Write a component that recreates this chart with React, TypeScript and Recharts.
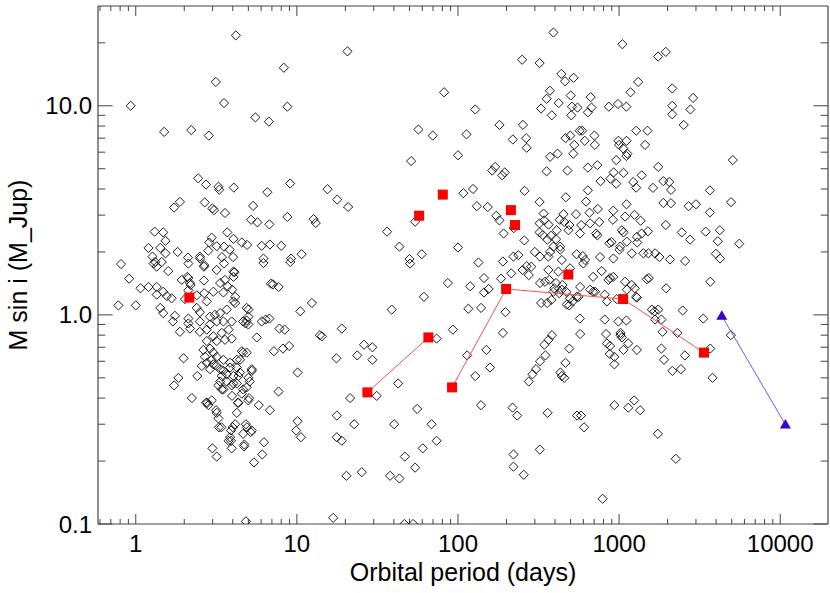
import React from 'react';
import { ScatterChart, Scatter, XAxis, YAxis } from 'recharts';

// Orbital period (days), minimum mass M sin i (M_Jup)
const planets: [number, number][] = [
  [4.18,21.7],[20.6,18.2],[8.3,15.2],[3.14,13.0],[82,11.6],[0.93,10.0],[3.53,10.3],[8.73,9.9],[5.53,8.8],[6.7,8.4],
  [1.5,7.5],[2.21,7.65],[2.84,7.2],[56.8,7.7],[69.7,7.2],[51.2,5.44],[100,5.8],[2.44,4.5],[2.73,4.2],[3.26,4.1],
  [3.3,3.97],[4.06,4.06],[6.56,3.86],[9.08,4.25],[15.5,3.99],[17.8,3.56],[20.8,3.28],[1.73,3.26],[1.88,3.47],[2.68,3.45],
  [2.99,3.23],[3.06,3.17],[3.58,3.07],[5.35,3.32],[5.2,2.85],[5.69,2.77],[6.75,2.71],[8.73,2.94],[12.7,2.87],[13.1,2.75],
  [36.3,2.5],[43.3,2.12],[59.6,1.95],[54.2,2.79],[1.31,2.5],[1.48,2.48],[1.53,2.26],[1.2,2.09],[1.42,2.09],[1.53,1.97],
  [1.82,2.0],[2.11,1.88],[2.5,1.9],[2.82,2.03],[2.96,2.34],[2.86,2.22],[3.18,2.13],[3.7,2.48],[4.04,2.31],[3.53,2.12],
  [3.83,2.05],[3.43,1.89],[4.02,1.89],[4.55,2.22],[4.91,2.16],[6.05,2.14],[6.8,2.17],[8.0,2.14],[10.7,1.95],[6.2,1.86],
  [9.2,1.86],[50,1.85],[1.27,1.9],[100,2.1],
  [391,22.4],[1048,19.7],[1746,17.2],[1950,18.1],[250,16.6],[321,16.0],[438,14.2],[462,13.1],[522,13.6],[372,11.8],
  [355,10.8],[1314,13.0],[1177,11.6],[2137,12.1],[2880,10.9],[128,9.6],[328,9.7],[382,9.0],[422,10.3],[510,9.9],
  [552,9.8],[505,9.0],[666,11.0],[674,9.8],[640,9.3],[864,9.9],[984,10.2],[1109,9.9],[2137,10.0],[2137,9.1],
  [2770,9.6],[2518,8.1],[113,7.3],[181,8.1],[253,8.1],[219,6.9],[265,7.0],[267,6.3],[465,7.0],[498,7.2],
  [569,7.6],[590,7.6],[612,6.8],[703,7.2],[707,6.5],[527,6.5],[1277,7.6],[1500,7.6],[1450,6.5],[990,6.8],
  [1000,6.5],[1112,6.8],[1060,6.25],[1110,5.75],[1125,5.9],[960,5.5],[5080,5.5],[373,5.7],[415,5.9],[520,5.9],
  [163,4.9],[170,5.1],[188,4.65],[195,4.8],[355,4.86],[478,4.9],[640,5.06],[733,5.2],[767,4.36],[882,4.48],
  [925,4.8],[960,4.24],[1065,4.78],[1223,4.32],[1382,4.65],[1277,4.06],[1624,4.05],[1750,5.1],[1882,4.36],[2047,4.32],
  [2100,3.96],[1882,3.43],[2100,3.42],[2700,3.31],[3000,3.38],[3660,3.09],[3660,3.94],[4950,3.46],[124,4.0],[108,3.82],
  [131,3.31],[153,3.28],[259,3.92],[321,3.47],[467,3.65],[624,3.48],[640,3.94],[738,3.21],[920,3.15],[1112,3.38],
  [753,2.78],[915,2.85],[1090,2.95],[1950,2.69],[2450,2.48],[2760,2.29],[3450,2.5],[4220,2.54],[4100,2.25],[5570,2.19],
  [3990,1.96],[4230,1.86],[340,3.05],[321,2.74],[428,2.85],[452,3.03],[540,3.03],[492,2.69],[582,2.69],[655,3.08],
  [1247,3.01],[1360,2.82],[1510,2.51],[1065,2.48],[733,2.4],[870,2.2],[365,2.7],[321,2.48],[378,2.39],[359,2.29],
  [406,2.3],[431,2.05],[258,2.27],[300,2.0],[192,2.45],[181,2.83],[222,2.6],[173,2.98],[545,1.95],[595,1.91],
  [762,1.89],[898,2.23],[1005,2.05],[1296,2.22],[1780,1.89],[2070,1.84],[2570,1.81],[501,11.2],
  [1380,2.45],[1290,2.36],[343,2.83],[485,2.54],[457,2.78],[336,2.41],[410,2.54],[391,2.12],[373,2.0],[431,2.12],
  [572,2.45],[661,2.74],[720,2.45],[1015,2.12],[1117,2.24],[1415,1.97],[1040,2.54],
  [323,1.9],[364,1.9],[922,1.86],[1199,1.97],[1520,1.97],[1673,1.97],[441,1.83],[615,1.83],[600,1.76],[496,1.67],
  [420,1.61],[347,1.44],[369,1.47],[406,1.42],[391,1.29],[441,1.32],[496,1.2],[546,1.22],[661,1.32],[710,1.29],
  [879,1.5],[1486,1.48],[1089,1.44],[1117,1.32],[1276,1.22],[221,1.9],[237,1.93],[267,1.71],[190,1.8],[134,1.78],
  [968,1.19],[1064,0.68],[879,0.71],[1596,1.06],[1673,0.95],[441,0.51],[473,1.12],
  [119,1.37],[145,1.5],[145,1.28],[155,1.33],[116,1.07],[139,1.08],[185,1.49],[214,1.58],[197,1.03],[190,0.82],
  [114,0.64],[150,0.68],[158,0.56],[128,0.51],[139,0.37],[218,0.36],[233,0.33],[221,0.215],[221,0.188],[256,0.172],
  [322,0.227],[360,0.34],[275,0.48],[290,0.52],[305,0.55],[323,0.6],[349,0.64],[344,0.72],[365,0.76],[383,0.8],
  [465,0.59],[432,0.53],[457,0.5],[491,0.69],[573,0.81],[571,0.96],[548,0.33],[580,0.33],[606,0.29],[380,1.18],
  [328,1.14],[358,1.14],[425,1.27],[445,1.39],[491,1.11],[515,1.16],[470,1.29],[396,1.34],[573,1.36],[690,1.52],
  [860,1.47],[920,1.52],[780,1.62],[690,1.29],[815,0.95],[990,0.93],[1110,0.94],[1020,0.8],[830,0.81],[840,0.73],
  [1140,0.73],[1290,0.68],[875,0.65],[935,0.63],[935,0.58],[1020,0.82],[1040,0.78],[935,0.37],[1140,0.36],[1240,0.39],
  [1350,0.35],[790,0.132],[1740,0.27],[2250,0.205],[1830,0.69],[1900,0.61],[2140,0.54],[2420,0.55],[2560,0.64],[1860,0.83],
  [2300,0.82],[1830,0.95],[1750,1.06],[1660,1.04],[1960,1.34],[2480,1.05],[3330,0.96],[3680,1.44],[3680,0.69],[3800,0.5],
  [4940,0.8],[1530,1.5],[1250,1.34],[1290,1.21],[1200,1.39],[815,1.25],[840,1.16],[560,1.22],[285,1.7],[275,1.55],
  [323,1.42],[252,1.64],[364,1.64],
  [0.81,1.75],[0.91,1.49],[1.07,1.34],[1.2,1.36],[0.78,1.11],[1.0,1.11],[1.35,1.36],[1.35,1.25],[1.48,1.29],[1.56,1.23],
  [1.67,1.2],[1.42,1.08],[1.48,1.02],[1.7,0.93],[1.88,0.83],[1.98,0.62],[1.84,0.5],[1.73,0.46],[2.23,0.4],[2.41,0.51],
  [2.57,0.57],[2.73,0.38],[2.78,0.38],[3.18,0.34],[3.28,0.29],[2.99,0.23],[3.18,0.21],[3.85,0.26],[3.94,0.23],[4.24,0.34],
  [4.72,0.24],[5.42,0.197],[6.1,0.215],[6.25,0.246],[4.83,0.3],[5.17,0.275],[4.0,0.29],[4.14,0.3],[3.77,0.25],[5.8,0.37],
  [6.8,0.35],[4.3,0.38],[5.05,0.4],[3.96,0.41],[5.64,0.78],[5.0,0.9],[5.0,1.06],[4.88,0.94],[6.05,0.93],[6.4,0.95],
  [6.75,0.96],[7.2,0.67],[8.2,0.69],[8.95,0.71],[7.8,0.86],[8.4,0.85],[7.7,0.43],[10.1,0.53],[10.1,0.31],[9.9,0.28],
  [10.6,0.26],[10.5,1.04],[12.4,1.14],[13.9,0.8],[14.3,0.79],[19,0.86],[17.6,0.62],[23.7,0.64],[26.1,0.72],[29.4,0.7],
  [29.4,0.61],[21.4,0.4],[17.7,0.33],[22.7,0.3],[17.7,0.26],[19,0.25],[20.3,0.17],[25.3,0.177],[16.8,0.107],[31.3,0.41],
  [42.5,0.47],[38.8,1.06],[61.5,1.22],[86.5,1.42],[93,0.85],[73.7,0.77],[55.8,0.355],[40.2,0.3],[68.5,0.3],[73.7,0.25],
  [60.4,0.23],[46.8,0.21],[54.2,0.186],[37.9,0.17],[43.3,0.165],[46.5,0.1],[52.7,0.1],[4.83,0.103],[50.4,1.76],[6.9,1.41],
  [7.7,1.36],[6.2,1.77],[9.1,1.79],[2.66,1.73],[2.12,1.76],[1.32,1.79],
  [2.09,1.52],[2.19,1.39],[1.93,1.47],[2.12,1.31],[2.39,1.24],[2.65,1.46],[2.66,1.27],[2.76,1.16],[3.03,1.29],[3.5,1.28],
  [3.97,1.32],[4.04,1.52],[4.1,1.6],[3.53,1.76],[4.04,1.16],[4.14,1.14],[3.67,1.06],[3.34,1.02],[3.1,1.0],[2.89,0.98],
  [2.5,1.03],[2.39,1.08],[2.12,0.96],[2.12,0.91],[2.17,0.86],[2.5,0.83],[2.76,0.85],[2.89,0.9],[3.18,0.93],[3.5,0.93],
  [3.94,0.93],[3.77,0.85],[3.42,0.82],[3.03,0.79],[2.76,0.75],[2.63,0.68],[2.89,0.69],[3.18,0.75],[3.58,0.76],[3.94,0.77],
  [4.55,0.67],[4.88,0.66],[4.44,0.61],[5.25,0.55],[5.0,0.5],[4.24,0.56],[3.85,0.59],[3.5,0.61],[3.18,0.63],[3.03,0.58],
  [3.34,0.55],[3.42,0.51],[3.67,0.52],[4.04,0.51],[4.44,0.53],[4.24,0.47],[3.94,0.46],[3.5,0.44],[4.55,0.42],[4.88,0.45],
  [3.26,0.46],[2.89,0.55],[2.69,0.63],[4.64,0.93],[2.5,0.93],[2.02,1.19],[1.75,0.99],
  [3.15,0.35],[3.26,0.32],[3.4,0.29],[3.9,0.28],[4.9,0.29],[5.25,0.28],[4.64,0.27],[3.9,0.25],[4.7,0.235],[4.34,0.38],
  [5.0,0.39],[5.25,0.54],[5.1,0.48],[4.64,0.44],[3.42,0.44],[2.96,0.39],[2.82,0.37],[4.34,0.51],[4.04,0.47],[3.67,0.48],
  [3.34,0.48],[3.5,0.54],[3.85,0.56],[3.18,0.57],[2.96,0.61],[2.76,0.59],[4.64,0.66],[4.24,0.61],[3.03,0.66],
  [1.29,1.76],[1.35,1.7],[1.45,1.79],[1.59,1.62],[2.12,1.5],[2.17,1.42],[2.51,1.86],[2.65,1.7],[3.34,1.42],[3.18,1.64],
  [3.58,1.47],[3.72,1.37],[4.04,1.61],[4.14,1.22],[4.88,1.08],[5.0,0.98],[4.8,0.91],[7.1,1.4],
];

// Red filled squares: unconnected ones, and two connected sequences
const redSingles: [number, number][] = [[2.15,1.21],[57.4,2.98],[80.5,3.76],[213,3.17],[226,2.69],[484,1.56]];
const redChainA: [number, number][] = [[27.4,0.426],[65.5,0.78]];
const redChainB: [number, number][] = [[91.9,0.45],[199,1.33],[1059,1.19],[3365,0.66]];
// Blue triangles (connected)
const blueChain: [number, number][] = [[4340,0.99],[10770,0.299]];

const X_MAJOR = [1, 10, 100, 1000, 10000];
const X_MINOR = [0.6,0.7,0.8,0.9,2,3,4,5,6,7,8,9,20,30,40,50,60,70,80,90,200,300,400,500,600,700,800,900,2000,3000,4000,5000,6000,7000,8000,9000];
const Y_MAJOR = [0.1, 1, 10];
const Y_MINOR = [0.2,0.3,0.4,0.5,0.6,0.7,0.8,0.9,2,3,4,5,6,7,8,9,20];
const X_DOMAIN: [number, number] = [0.583, 19800];
const Y_DOMAIN: [number, number] = [0.1, 30];

const toRows = (arr: [number, number][]) => arr.map(([p, m]) => ({ p, m }));

const FONT = '"Liberation Sans", Arial, Helvetica, sans-serif';
const AX = '#444444';
const THIN = 0.001;

const Diamond = (props: any) => {
  const { cx, cy } = props;
  if (cx == null || cy == null) return null;
  const r = 4.6;
  return (
    <path d={`M${cx},${cy - r}L${cx + r},${cy}L${cx},${cy + r}L${cx - r},${cy}Z`}
      fill="none" stroke="#111" strokeWidth={0.95} />
  );
};
const Square = (props: any) => {
  const { cx, cy } = props;
  if (cx == null || cy == null) return null;
  return <rect x={cx - 5} y={cy - 5} width={10} height={10} fill="#ff0000" />;
};
const Triangle = (props: any) => {
  const { cx, cy } = props;
  if (cx == null || cy == null) return null;
  return <path d={`M${cx},${cy - 5.5}L${cx + 5.5},${cy + 4}L${cx - 5.5},${cy + 4}Z`} fill="#3a00cc" />;
};

const empty = () => '';

export default function App() {
  return (
    <div style={{ position: 'absolute', left: 0, top: 0, width: 830, height: 593, background: '#fff', fontFamily: FONT }}>
      <ScatterChart width={830} height={593} margin={{ top: 6, right: 2, bottom: 69, left: 98 }}>
        {/* inward tick marks and frame */}
        <XAxis xAxisId="bMaj" type="number" dataKey="p" scale="log" domain={X_DOMAIN} allowDataOverflow
          ticks={X_MAJOR} orientation="bottom" mirror height={THIN} tickSize={10} tickFormatter={empty}
          tickLine={{ stroke: AX }} axisLine={{ stroke: AX, strokeWidth: 1.2 }} interval={0} />
        <XAxis xAxisId="bMin" type="number" dataKey="p" scale="log" domain={X_DOMAIN} allowDataOverflow
          ticks={X_MINOR} orientation="bottom" mirror height={THIN} tickSize={5} tickFormatter={empty}
          tickLine={{ stroke: AX }} axisLine={false} interval={0} />
        <XAxis xAxisId="tMaj" type="number" dataKey="p" scale="log" domain={X_DOMAIN} allowDataOverflow
          ticks={X_MAJOR} orientation="top" mirror height={THIN} tickSize={10} tickFormatter={empty}
          tickLine={{ stroke: AX }} axisLine={{ stroke: AX, strokeWidth: 1.2 }} interval={0} />
        <XAxis xAxisId="tMin" type="number" dataKey="p" scale="log" domain={X_DOMAIN} allowDataOverflow
          ticks={X_MINOR} orientation="top" mirror height={THIN} tickSize={5} tickFormatter={empty}
          tickLine={{ stroke: AX }} axisLine={false} interval={0} />
        <YAxis yAxisId="lMaj" type="number" dataKey="m" scale="log" domain={Y_DOMAIN} allowDataOverflow
          ticks={Y_MAJOR} orientation="left" mirror width={THIN} tickSize={14.6} tickFormatter={empty}
          tickLine={{ stroke: AX }} axisLine={{ stroke: AX, strokeWidth: 1.2 }} interval={0} />
        <YAxis yAxisId="lMin" type="number" dataKey="m" scale="log" domain={Y_DOMAIN} allowDataOverflow
          ticks={Y_MINOR} orientation="left" mirror width={THIN} tickSize={7.3} tickFormatter={empty}
          tickLine={{ stroke: AX }} axisLine={false} interval={0} />
        <YAxis yAxisId="rMaj" type="number" dataKey="m" scale="log" domain={Y_DOMAIN} allowDataOverflow
          ticks={Y_MAJOR} orientation="right" mirror width={THIN} tickSize={14.6} tickFormatter={empty}
          tickLine={{ stroke: AX }} axisLine={{ stroke: AX, strokeWidth: 1.2 }} interval={0} />
        <YAxis yAxisId="rMin" type="number" dataKey="m" scale="log" domain={Y_DOMAIN} allowDataOverflow
          ticks={Y_MINOR} orientation="right" mirror width={THIN} tickSize={7.3} tickFormatter={empty}
          tickLine={{ stroke: AX }} axisLine={false} interval={0} />

        {/* labelled axes used by the series */}
        <XAxis xAxisId="x" type="number" dataKey="p" scale="log" domain={X_DOMAIN} allowDataOverflow
          ticks={X_MAJOR} orientation="bottom" height={THIN} tickSize={0} tickMargin={11} interval={0}
          tickLine={false} axisLine={false}
          tick={{ fontSize: 24, fill: '#000', fontFamily: FONT }}
          label={{ value: 'Orbital period (days)', position: 'bottom', offset: 39, fontSize: 25, fill: '#000', fontFamily: FONT }} />
        <YAxis yAxisId="y" type="number" dataKey="m" scale="log" domain={Y_DOMAIN} allowDataOverflow
          ticks={Y_MAJOR} orientation="left" width={THIN} tickSize={0} tickMargin={6} interval={0}
          tickLine={false} axisLine={false}
          tickFormatter={(v: number) => v.toFixed(1)}
          tick={{ fontSize: 24, fill: '#000', fontFamily: FONT }}
          label={{ value: 'M sin i (M_Jup)', position: 'left', angle: -90, offset: 80, fontSize: 25, fill: '#000', fontFamily: FONT, style: { textAnchor: 'middle' } }} />

        <Scatter xAxisId="x" yAxisId="y" data={toRows(planets)} shape={Diamond} isAnimationActive={false} />
        <Scatter xAxisId="x" yAxisId="y" data={toRows(redChainA)} shape={Square} line={{ stroke: '#ff5050', strokeWidth: 1 }} isAnimationActive={false} />
        <Scatter xAxisId="x" yAxisId="y" data={toRows(redChainB)} shape={Square} line={{ stroke: '#ff5050', strokeWidth: 1 }} isAnimationActive={false} />
        <Scatter xAxisId="x" yAxisId="y" data={toRows(redSingles)} shape={Square} isAnimationActive={false} />
        <Scatter xAxisId="x" yAxisId="y" data={toRows(blueChain)} shape={Triangle} line={{ stroke: '#7a55ee', strokeWidth: 1 }} isAnimationActive={false} />
      </ScatterChart>
    </div>
  );
}
